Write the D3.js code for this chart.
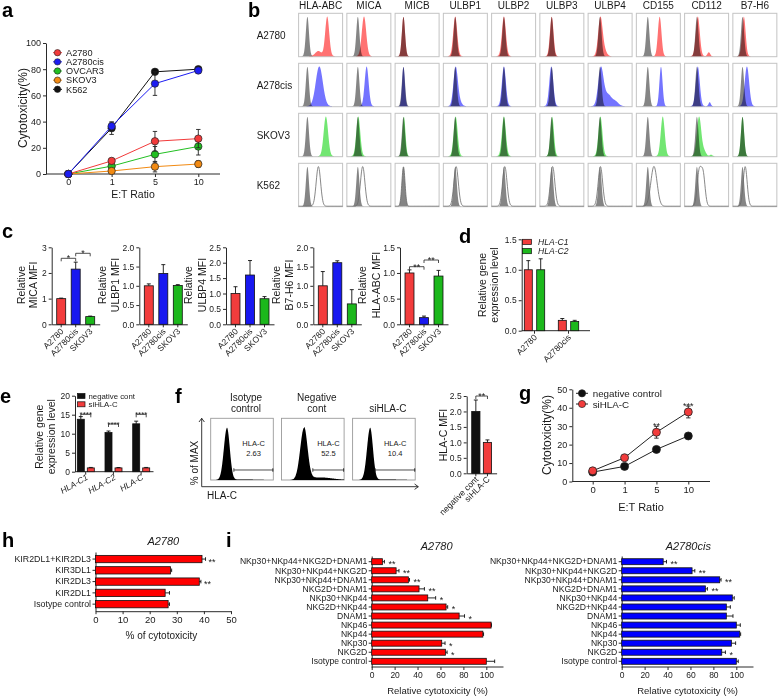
<!DOCTYPE html>
<html><head><meta charset="utf-8">
<script src="https://cdn.jsdelivr.net/npm/d3@7"></script>
<style>body{margin:0;background:#fff}svg{font-family:"Liberation Sans",Arial,Helvetica,sans-serif}</style>
</head><body>
<svg id="fig" width="778" height="696"></svg>
<script>
// ================= DATA =================
// panel a
const aRatios = ["0","1","5","10"];
const aYTicks = [0,20,40,60,80,100];
const aNames = ["A2780","A2780cis","OVCAR3","SKOV3","K562"];
const aColors = ["#f23a3a","#1c1cf2","#22c022","#f28a12","#111111"];
const aA2780 = [0,10,25,27];      const aA2780Err = [0,2,7.5,7];
const aA2780cis = [0,36.5,69,79]; const aA2780cisErr = [0,3,9,2];
const aOVCAR3 = [0,6,15,21];      const aOVCAR3Err = [0,2,6,6.5];
const aSKOV3 = [0,2.3,5.6,7.6];   const aSKOV3Err = [0,1.5,4,2.5];
const aK562 = [0,35,78,80];       const aK562Err = [0,4.8,1,1.5];
// panel b (flow histograms: peak position as fraction of log axis, spread)
const bMarkers = ["HLA-ABC","MICA","MICB","ULBP1","ULBP2","ULBP3","ULBP4","CD155","CD112","B7-H6"];
const bCells = ["A2780","A278cis","SKOV3","K562"];
const bIsoPeak = [0.20,0.25,0.19,0.27,0.28,0.27,0.27,0.26,0.28,0.22];
const bA2780Peak    = [0.65,0.39,0.19,0.27,0.28,0.27,0.28,0.53,0.30,0.25];
const bA2780cisPeak = [0.47,0.45,0.19,0.28,0.28,0.26,0.29,0.56,0.30,0.32];
const bSKOV3Peak    = [0.62,0.26,0.20,0.28,0.28,0.28,0.28,0.60,0.33,0.22];
const bK562Peak     = [0.45,0.36,0.19,0.29,0.30,0.29,0.28,0.40,0.33,0.28];
const bA2780Sd    = [0.045,0.05,0.035,0.045,0.045,0.04,0.05,0.04,0.045,0.04];
const bA2780cisSd = [0.08,0.045,0.03,0.05,0.045,0.045,0.06,0.035,0.045,0.05];
const bSKOV3Sd    = [0.05,0.045,0.035,0.045,0.045,0.04,0.045,0.045,0.05,0.035];
const bK562Sd     = [0.05,0.05,0.035,0.05,0.05,0.05,0.05,0.07,0.045,0.045];
const bExtra = [[0,0,0.45,0.13,0.07],[0,6,0.38,0.12,0.05],[0,8,0.55,0.1,0.03],[1,3,0.38,0.08,0.05],
  [1,6,0.45,0.3,0.08],[1,6,0.62,0.12,0.07],[1,8,0.57,0.1,0.025],[2,8,0.45,0.12,0.04],[2,8,0.6,0.04,0.03],[3,8,0.42,0.95,0.045]];
// panel c
const cCells = ["A2780","A2780cis","SKOV3"];
const cLabels = ["MICA MFI","ULBP1 MFI","ULBP4 MFI","B7-H6 MFI","HLA-ABC MFI"];
const cMICA = [1.0,2.15,0.3];     const cMICAErr = [0.02,0.27,0.02];
const cULBP1 = [1.0,1.32,1.01];   const cULBP1Err = [0.05,0.23,0.02];
const cULBP4 = [1.0,1.6,0.83];    const cULBP4Err = [0.22,0.47,0.07];
const cB7H6 = [1.0,1.6,0.53];     const cB7H6Err = [0.37,0.05,0.37];
const cHLAABC = [1.0,0.13,0.94];  const cHLAABCErr = [0.06,0.03,0.11];
const cYMax = [3,2,2.5,2,1.5];
// panel d
const dGroups = ["A2780","A2780cis"];
const dSeries = ["HLA-C1","HLA-C2"];
const dC1 = [1.0,0.17]; const dC1Err = [0.15,0.03];
const dC2 = [1.0,0.15]; const dC2Err = [0.18,0.02];
const dYTicks = [0,0.5,1.0,1.5];
// panel e
const eGenes = ["HLA-C1","HLA-C2","HLA-C"];
const eSeries = ["negative cont","siHLA-C"];
const eNeg = [13.8,10.3,12.6]; const eNegErr = [0.7,0.4,0.7];
const eSi = [1.0,1.0,1.0];     const eSiErr = [0.12,0.1,0.12];
const eYTicks = [0,5,10,15,20];
// panel f
const fTitles = [["Isotype","control"],["Negative","cont"],["siHLA-C"]];
const fGate = ["2.63","52.5","10.4"];
const fPeak = [0.26,0.36,0.28];
const fSd = [0.045,0.055,0.045];
const fGateStart = [0.37,0.5,0.36];
const fGroups = ["negative cont","siHLA-C"];
const fMFI = [2.0,1.0]; const fMFIErr = [0.37,0.08];
const fYTicks = [0,0.5,1.0,1.5,2.0,2.5];
// panel g
const gRatios = ["0","1","5","10"];
const gNeg = [5.1,8.2,17.4,24.7]; const gNegErr = [0.5,0.5,0.6,1.4];
const gSi = [5.8,12.9,26.7,37.7]; const gSiErr = [0.6,0.8,3.2,3.2];
const gSig = ["","","**","***"];
const gYTicks = [0,10,20,30,40,50];
// panel h
const hLabels = ["KIR2DL1+KIR2DL3","KIR3DL1","KIR2DL3","KIR2DL1","Isotype control"];
const hValues = [39.3,27.7,38.3,25.7,26.8];
const hErr = [1.3,0.4,0.6,1.6,0.5];
const hSig = ["**","","**","",""];
const hXTicks = [0,10,20,30,40,50];
// panel i
const iLabels = ["NKp30+NKp44+NKG2D+DNAM1","NKp30+NKp44+NKG2D","NKp30+NKp44+DNAM1","NKG2D+DNAM1","NKp30+NKp44",
  "NKG2D+NKp44","DNAM1","NKp46","NKp44","NKp30","NKG2D","Isotype control"];
const iA2780 = [9.3,21.3,32,41.3,48.9,64.9,76.3,104.2,97,61.1,64.3,100];
const iA2780Err = [1.8,2.5,1,4.7,6.9,1.4,4.7,0.3,0.6,2.9,1.5,7.3];
const iA2780Sig = ["**","**","**","**","*","*","*","","","*","*",""];
const iCis = [36.2,61.4,85.5,73,96.5,91.3,91.3,100,103,95.7,87.3,100];
const iCisErr = [2.9,2.4,1.2,1.8,1.7,3.5,5.8,3.5,0.8,3.7,3.2,1.7];
const iCisSig = ["**","**","**","**","","","","","","","*",""];
const iXTicks = [0,20,40,60,80,100];

// ================= HELPERS =================
const svg = d3.select("#fig");
svg.append("rect").attr("width",778).attr("height",696).attr("fill","#fff");
const AX = "#2a2a2a", TX = "#1a1a1a";
const RED = "#f23c3c", BLUE = "#1818f0", GREEN = "#1cb81c";

function txt(g,x,y,s,size,o={}){
  const t = g.append("text").attr("x",x).attr("y",y).text(s).attr("font-size",size).attr("fill",o.fill||TX);
  if(o.anchor) t.attr("text-anchor",o.anchor);
  if(o.weight) t.attr("font-weight",o.weight);
  if(o.italic) t.attr("font-style","italic");
  if(o.rotate!=null) t.attr("transform",`rotate(${o.rotate},${x},${y})`);
  return t;
}
function styleAxis(g,size){
  g.attr("font-family",null).attr("font-size",null);
  g.selectAll("path,line").attr("stroke",AX).attr("stroke-width",1);
  g.selectAll("text").attr("fill",TX).attr("font-size",size);
}
function line(g,x1,y1,x2,y2,c=AX,w=1){
  return g.append("line").attr("x1",x1).attr("y1",y1).attr("x2",x2).attr("y2",y2).attr("stroke",c).attr("stroke-width",w);
}
function yAxis(g,scale,x,ticks,fmt,size){
  const ax = g.append("g").attr("transform",`translate(${x},0)`)
    .call(d3.axisLeft(scale).tickValues(ticks).tickFormat(fmt).tickSize(3).tickSizeOuter(0).tickPadding(2));
  styleAxis(ax,size); return ax;
}
function xAxis(g,scale,y,ticks,fmt,size){
  const a = d3.axisBottom(scale).tickSize(3).tickSizeOuter(0).tickPadding(2);
  if(ticks) a.tickValues(ticks); if(fmt) a.tickFormat(fmt);
  const ax = g.append("g").attr("transform",`translate(0,${y})`).call(a);
  styleAxis(ax,size); return ax;
}
function vbar(g,x,w,ys,v,e,fill){
  g.append("rect").attr("x",x).attr("y",ys(v)).attr("width",w).attr("height",ys(0)-ys(v))
    .attr("fill",fill).attr("stroke","#111").attr("stroke-width",0.8);
  if(e>0){ const cx=x+w/2; line(g,cx,ys(v),cx,ys(v+e),"#111",0.9); line(g,cx-2,ys(v+e),cx+2,ys(v+e),"#111",0.9); }
}
function hbar(g,y,h,xs,v,e,fill){
  g.append("rect").attr("x",xs(0)).attr("y",y).attr("width",xs(v)-xs(0)).attr("height",h)
    .attr("fill",fill).attr("stroke","#111").attr("stroke-width",0.8);
  if(e>0){ const cy=y+h/2; line(g,xs(v),cy,xs(v+e),cy,"#111",0.9); line(g,xs(v+e),cy-1.8,xs(v+e),cy+1.8,"#111",0.9); }
}
function bracket(g,x1,x2,y,s,size=9){
  line(g,x1,y+3,x1,y,"#222",0.8); line(g,x1,y,x2,y,"#222",0.8); line(g,x2,y,x2,y+3,"#222",0.8);
  txt(g,(x1+x2)/2,y+size*0.35,s,size,{anchor:"middle"});
}
function panelLabel(s,x,y){ txt(svg,x,y,s,20,{weight:"bold",fill:"#000"}); }

// ================= PANEL a =================
(function(){
  const g = svg.append("g");
  panelLabel("a",2,17);
  const xs = d3.scalePoint().domain(aRatios).range([68.3,198.3]);
  const ys = d3.scaleLinear().domain([0,100]).range([174,43]);
  yAxis(g,ys,46,aYTicks,d3.format("d"),9);
  const xa = xAxis(g,xs,174,null,null,9); xa.select(".domain").remove();
  line(g,46,174,220,174);
  txt(g,27,108,"Cytotoxicity(%)",12,{anchor:"middle",rotate:-90});
  txt(g,133,198,"E:T Ratio",10.5,{anchor:"middle"});
  const vals = [aA2780,aA2780cis,aOVCAR3,aSKOV3,aK562];
  const errs = [aA2780Err,aA2780cisErr,aOVCAR3Err,aSKOV3Err,aK562Err];
  const order = [4,2,3,0,1];
  order.forEach(k=>{
    const c = aColors[k];
    const pts = aRatios.map((r,i)=>[xs(r),vals[k][i],errs[k][i]]);
    g.append("path").attr("d",d3.line().x(d=>d[0]).y(d=>ys(d[1]))(pts)).attr("fill","none").attr("stroke",c).attr("stroke-width",1);
    pts.forEach(p=>{ if(p[2]>0){ line(g,p[0],ys(p[1]-p[2]),p[0],ys(p[1]+p[2]),"#222",0.9);
      line(g,p[0]-2.2,ys(p[1]+p[2]),p[0]+2.2,ys(p[1]+p[2]),"#222",0.9);
      line(g,p[0]-2.2,ys(p[1]-p[2]),p[0]+2.2,ys(p[1]-p[2]),"#222",0.9);} });
    pts.forEach(p=>g.append("circle").attr("cx",p[0]).attr("cy",ys(p[1])).attr("r",3.7).attr("fill",c).attr("stroke","#222").attr("stroke-width",0.7));
  });
  aNames.forEach((n,i)=>{
    const y = 52.7 + i*9.15;
    line(g,53,y,62,y,aColors[i],1);
    g.append("circle").attr("cx",57.5).attr("cy",y).attr("r",3.2).attr("fill",aColors[i]).attr("stroke","#222").attr("stroke-width",0.6);
    txt(g,66,y+3.3,n,9.2);
  });
})();

// ================= PANEL b =================
(function(){
  const g = svg.append("g");
  panelLabel("b",248,16.5);
  const bx0=298.6, bStep=48.25, bw=44, by0=13.3, bRow=50, bh=43.4;
  const hx = d3.scaleLinear().domain([0,1]).range([0,bw]);
  const hy = d3.scaleLinear().domain([0,1]).range([bh-0.5,3]);
  const samples = d3.range(0,1.0001,0.01);
  function dens(peaks){
    const d = samples.map(s=>[s,d3.sum(peaks,p=>p[1]*Math.exp(-0.5*((s-p[0])/p[2])**2))]);
    const m = d3.max(d,v=>v[1]); return d.map(v=>[v[0],v[1]/m]);
  }
  const area = d3.area().x(d=>hx(d[0])).y0(bh-0.5).y1(d=>hy(d[1])).curve(d3.curveBasis);
  const lineGen = d3.line().x(d=>hx(d[0])).y(d=>hy(d[1])).curve(d3.curveBasis);
  const peaks = [bA2780Peak,bA2780cisPeak,bSKOV3Peak,bK562Peak];
  const sds = [bA2780Sd,bA2780cisSd,bSKOV3Sd,bK562Sd];
  const fills = ["#ff7272","#7474ff","#72e672"];
  bMarkers.forEach((m,j)=>txt(g,bx0+j*bStep+bw/2,8.8,m,10,{anchor:"middle"}));
  bCells.forEach((c,r)=>txt(g,256.7,by0+r*bRow+bh/2+3.5,c,10));
  bCells.forEach((c,r)=>{
    bMarkers.forEach((m,j)=>{
      const cell = g.append("g").attr("transform",`translate(${bx0+j*bStep},${by0+r*bRow})`);
      cell.append("rect").attr("width",bw).attr("height",bh).attr("fill","#fff").attr("stroke","#c4c4c4").attr("stroke-width",1);
      const iso = dens([[bIsoPeak[j],1,0.035]]);
      cell.append("path").attr("d",area(iso)).attr("fill","#858585");
      const pk = [[peaks[r][j],1,sds[r][j]]];
      bExtra.filter(e=>e[0]===r&&e[1]===j).forEach(e=>pk.push([e[2],e[3],e[4]]));
      const d = dens(pk);
      if(r<3) cell.append("path").attr("d",area(d)).attr("fill",fills[r]).style("mix-blend-mode","multiply");
      else cell.append("path").attr("d",lineGen(d)).attr("fill","none").attr("stroke","#6a6a6a").attr("stroke-width",0.8);
    });
  });
})();

// ================= PANEL c =================
(function(){
  const g = svg.append("g");
  panelLabel("c",2,238);
  const axX = [51.7,139.3,226,313.3,400];
  const vals = [cMICA,cULBP1,cULBP4,cB7H6,cHLAABC];
  const errs = [cMICAErr,cULBP1Err,cULBP4Err,cB7H6Err,cHLAABCErr];
  const cols = [RED,BLUE,GREEN];
  vals.forEach((v,k)=>{
    const x0 = axX[k];
    const ys = d3.scaleLinear().domain([0,cYMax[k]]).range([324.3,247.3]);
    const ticks = k===0 ? [0,1,2,3] : d3.range(0,cYMax[k]+0.001,0.5);
    yAxis(g,ys,x0,ticks,k===0?d3.format("d"):d3.format(".1f"),8.5);
    const xs = d3.scaleBand().domain(cCells).range([x0,x0+48]).paddingInner(0.38).paddingOuter(0.345);
    xAxis(g,xs,324.3,null,()=>"",8.5);
    cCells.forEach((c,i)=>{
      vbar(g,xs(c),xs.bandwidth(),ys,v[i],errs[k][i],cols[i]);
      txt(g,xs(c)+xs.bandwidth()/2+3,332,c,8.5,{anchor:"end",rotate:-45});
    });
    const o1 = k===0?-27.2:-33.8, o2 = k===0?-14.7:-20.3;
    txt(g,x0+o1,285,"Relative",10.5,{anchor:"middle",rotate:-90});
    txt(g,x0+o2,285,cLabels[k],10.5,{anchor:"middle",rotate:-90});
    const cx = i=>xs(cCells[i])+xs.bandwidth()/2;
    if(k===0){ bracket(g,cx(0),cx(1),258.3,"*"); bracket(g,cx(1),cx(2),253.3,"*"); }
    if(k===4){ bracket(g,cx(0),cx(1),266.7,"**"); bracket(g,cx(1),cx(2),260,"**"); }
  });
})();

// ================= PANEL d =================
(function(){
  const g = svg.append("g");
  panelLabel("d",459,243);
  const ys = d3.scaleLinear().domain([0,1.5]).range([330.7,239.3]);
  yAxis(g,ys,521.7,dYTicks,d3.format(".1f"),8.5);
  const xo = d3.scaleBand().domain(dGroups).range([521.7,589.7]);
  const xi = d3.scaleBand().domain(dSeries).range([0,25.6]).paddingInner(0.355).paddingOuter(0.21);
  line(g,521.7,330.7,590,330.7);
  const vals=[dC1,dC2], errs=[dC1Err,dC2Err], cols=[RED,GREEN];
  dGroups.forEach((gr,i)=>{
    dSeries.forEach((s,k)=>vbar(g,xo(gr)+xi(s),xi.bandwidth(),ys,vals[k][i],errs[k][i],cols[k]));
    const tx = xo(gr)+12.8;
    line(g,tx,330.7,tx,333.7);
    txt(g,tx+3,338,gr,8.5,{anchor:"end",rotate:-45});
  });
  txt(g,486,285,"Relative gene",10.5,{anchor:"middle",rotate:-90});
  txt(g,497.5,285,"expression level",10.5,{anchor:"middle",rotate:-90});
  dSeries.forEach((s,k)=>{
    const y = 239.3+k*9.2;
    g.append("rect").attr("x",522.5).attr("y",y).attr("width",9).attr("height",5.2).attr("fill",cols[k]).attr("stroke","#111").attr("stroke-width",0.7);
    txt(g,538,y+5.6,s,8.6,{italic:true});
  });
})();

// ================= PANEL e =================
(function(){
  const g = svg.append("g");
  panelLabel("e",0,403);
  const ys = d3.scaleLinear().domain([0,20]).range([471.7,395.7]);
  yAxis(g,ys,75,eYTicks,d3.format("d"),8.5);
  const xo = d3.scaleBand().domain(eGenes).range([75,158.1]);
  const xi = d3.scaleBand().domain(eSeries).range([0,21.6]).paddingInner(0.3).paddingOuter(0.23);
  line(g,75,471.7,153.5,471.7);
  const vals=[eNeg,eSi], errs=[eNegErr,eSiErr], cols=["#111",RED];
  const brY = [414.3,424,414.3];
  eGenes.forEach((gr,i)=>{
    eSeries.forEach((s,k)=>vbar(g,xo(gr)+xi(s),xi.bandwidth(),ys,vals[k][i],errs[k][i],cols[k]));
    const tx = xo(gr)+10.7;
    line(g,tx,471.7,tx,474.7);
    txt(g,tx+3,479,gr,8.5,{anchor:"end",rotate:-30,italic:true});
    bracket(g,xo(gr)+xi(eSeries[0])+xi.bandwidth()/2,xo(gr)+xi(eSeries[1])+xi.bandwidth()/2,brY[i],"****",8);
  });
  txt(g,43.5,436.7,"Relative gene",10.5,{anchor:"middle",rotate:-90});
  txt(g,55,436.7,"expression level",10.5,{anchor:"middle",rotate:-90});
  eSeries.forEach((s,k)=>{
    const y = 393.5+k*8.3;
    g.append("rect").attr("x",77.5).attr("y",y).attr("width",7.5).attr("height",5).attr("fill",cols[k]).attr("stroke","#111").attr("stroke-width",0.7);
    txt(g,88.5,y+5.2,s,7.8);
  });
})();

// ================= PANEL f =================
(function(){
  const g = svg.append("g");
  panelLabel("f",175,403);
  const boxX = [210.7,281.5,352.6], bw = 62.6, by = 418.3, bh = 61.7;
  const hx = d3.scaleLinear().domain([0,1]).range([0,bw]);
  const hy = d3.scaleLinear().domain([0,1]).range([bh,9.5]);
  const samples = d3.range(0,1.0001,0.005);
  fTitles.forEach((t,i)=>{
    const cx = boxX[i]+bw/2+4;
    if(t.length===2){ txt(g,cx,400.5,t[0],10,{anchor:"middle"}); txt(g,cx,412,t[1],10,{anchor:"middle"}); }
    else txt(g,cx,412,t[0],10,{anchor:"middle"});
    const cell = g.append("g").attr("transform",`translate(${boxX[i]},${by})`);
    cell.append("rect").attr("width",bw).attr("height",bh).attr("fill","#fff").attr("stroke","#9a9a9a").attr("stroke-width",0.9);
    const tail = i===1 ? 0.05 : 0.01;
    const d = samples.map(s=>{
      const sd = s<fPeak[i] ? fSd[i]*1.1 : fSd[i];
      let v = Math.exp(-0.5*((s-fPeak[i])/sd)**2);
      if(s>fPeak[i]) v += tail*Math.exp(-0.5*((s-fPeak[i]-0.25)/0.2)**2);
      return [s,v];
    });
    cell.append("path").attr("d",d3.area().x(v=>hx(v[0])).y0(bh).y1(v=>hy(v[1])).curve(d3.curveBasis)(d)).attr("fill","#000");
    const gy = 51.7, gx = hx(fGateStart[i]);
    line(cell,gx,gy,bw,gy,"#222",0.8); line(cell,gx,gy-1.8,gx,gy+1.8,"#222",0.8); line(cell,bw-0.5,gy-1.8,bw-0.5,gy+1.8,"#222",0.8);
    const tx = hx(fGateStart[i]) + (bw-hx(fGateStart[i]))/2;
    txt(cell,tx,27.5,"HLA-C",7.5,{anchor:"middle"});
    txt(cell,tx,37.5,fGate[i],7.5,{anchor:"middle"});
  });
  line(g,201.7,486.7,201.7,418.3,"#222",0.9);
  line(g,199,422,201.7,418.3,"#222",0.9); line(g,204.4,422,201.7,418.3,"#222",0.9);
  line(g,201.7,486.7,418.3,486.7,"#222",0.9);
  line(g,414.6,484,418.3,486.7,"#222",0.9); line(g,414.6,489.4,418.3,486.7,"#222",0.9);
  txt(g,198,463,"% of MAX",10,{anchor:"middle",rotate:-90});
  txt(g,207,499,"HLA-C",10);
  const ys = d3.scaleLinear().domain([0,2.5]).range([473.3,396]);
  yAxis(g,ys,466.7,fYTicks,d3.format(".1f"),8.5);
  const xs = d3.scaleBand().domain(fGroups).range([466.7,496.6]).paddingInner(0.29).paddingOuter(0.43);
  xAxis(g,xs,473.3,null,()=>"",8.5);
  const cols = ["#111",RED];
  fGroups.forEach((s,i)=>{
    vbar(g,xs(s),xs.bandwidth(),ys,fMFI[i],fMFIErr[i],cols[i]);
    txt(g,xs(s)+xs.bandwidth()/2+3,480,s,8.5,{anchor:"end",rotate:-45});
  });
  bracket(g,xs(fGroups[0])+xs.bandwidth()/2,xs(fGroups[1])+xs.bandwidth()/2,396,"**",9);
  txt(g,447,435,"HLA-C MFI",10.5,{anchor:"middle",rotate:-90});
})();

// ================= PANEL g =================
(function(){
  const g = svg.append("g");
  panelLabel("g",519,400);
  const xs = d3.scalePoint().domain(gRatios).range([592.7,688.3]);
  const ys = d3.scaleLinear().domain([0,50]).range([481.5,389.3]);
  yAxis(g,ys,572.3,gYTicks,d3.format("d"),9);
  const xa = xAxis(g,xs,481.5,null,null,9.5); xa.select(".domain").remove();
  line(g,572.3,481.5,710,481.5);
  txt(g,551,435,"Cytotoxicity(%)",12,{anchor:"middle",rotate:-90});
  txt(g,641,510.5,"E:T Ratio",11,{anchor:"middle"});
  const ser = [[gNeg,gNegErr,"#111"],[gSi,gSiErr,RED]];
  ser.forEach(([v,e,c])=>{
    const pts = gRatios.map((r,i)=>[xs(r),v[i],e[i]]);
    g.append("path").attr("d",d3.line().x(d=>d[0]).y(d=>ys(d[1]))(pts)).attr("fill","none").attr("stroke","#222").attr("stroke-width",1);
    pts.forEach(p=>{ line(g,p[0],ys(p[1]-p[2]),p[0],ys(p[1]+p[2]),"#222",0.9);
      line(g,p[0]-2.2,ys(p[1]+p[2]),p[0]+2.2,ys(p[1]+p[2]),"#222",0.9);
      line(g,p[0]-2.2,ys(p[1]-p[2]),p[0]+2.2,ys(p[1]-p[2]),"#222",0.9); });
    pts.forEach(p=>g.append("circle").attr("cx",p[0]).attr("cy",ys(p[1])).attr("r",4).attr("fill",c).attr("stroke","#222").attr("stroke-width",0.8));
  });
  gSig.forEach((s,i)=>{ if(s) txt(g,xs(gRatios[i]),ys(gSi[i]+gSiErr[i])-3+5.5,s,9,{anchor:"middle"}); });
  [["negative control","#111"],["siHLA-C",RED]].forEach(([n,c],k)=>{
    const y = 393.3+k*10.7;
    line(g,576,y,588,y,"#222",1);
    g.append("circle").attr("cx",582).attr("cy",y).attr("r",3.6).attr("fill",c).attr("stroke","#222").attr("stroke-width",0.7);
    txt(g,592.7,y+3.5,n,9.8);
  });
})();

// ================= PANEL h =================
(function(){
  const g = svg.append("g");
  panelLabel("h",2,547);
  txt(g,163.3,545,"A2780",11,{anchor:"middle",italic:true});
  const xs = d3.scaleLinear().domain([0,50]).range([95.5,231]);
  const ys = d3.scaleBand().domain(hLabels).range([552,611.2]).paddingInner(0.35).paddingOuter(0.3);
  const ya = g.append("g").attr("transform","translate(95.5,0)").call(d3.axisLeft(ys).tickSize(3).tickSizeOuter(0).tickPadding(1.5));
  styleAxis(ya,8.8);
  xAxis(g,xs,611.2,hXTicks,d3.format("d"),9.5);
  hLabels.forEach((l,i)=>{
    hbar(g,ys(l),ys.bandwidth(),xs,hValues[i],hErr[i],"#ff0000");
    if(hSig[i]) txt(g,xs(hValues[i]+hErr[i])+3,ys(l)+ys.bandwidth()/2+5.5,hSig[i],9);
  });
  txt(g,161.4,638.5,"% of cytotoxicity",10,{anchor:"middle"});
})();

// ================= PANEL i =================
function iPanel(x0,title,titleX,vals,errs,sig,color){
  const g = svg.append("g");
  txt(g,titleX,550,title,11,{anchor:"middle",italic:true});
  const xs = d3.scaleLinear().domain([0,100]).range([x0,x0+114.6]);
  const ys = d3.scaleBand().domain(iLabels).range([556,667]).paddingInner(0.34).paddingOuter(0.3);
  const ya = g.append("g").attr("transform",`translate(${x0},0)`).call(d3.axisLeft(ys).tickSize(3).tickSizeOuter(0).tickPadding(1.5));
  styleAxis(ya,8.6);
  const xa = xAxis(g,xs,667,iXTicks,d3.format("d"),8.5); xa.select(".domain").remove();
  line(g,x0,667,xs(115),667);
  iLabels.forEach((l,i)=>{
    hbar(g,ys(l),ys.bandwidth(),xs,vals[i],errs[i],color);
    if(sig[i]) txt(g,xs(vals[i]+errs[i])+4,ys(l)+ys.bandwidth()/2+5.5,sig[i],9);
  });
  txt(g,(x0+xs(115))/2,693.5,"Relative cytotoxicity (%)",9.5,{anchor:"middle"});
}
panelLabel("i",226,547);
iPanel(371.7,"A2780",436.7,iA2780,iA2780Err,iA2780Sig,"#ff0000");
iPanel(621.7,"A2780cis",688.3,iCis,iCisErr,iCisSig,"#0000ff");
</script>
</body></html>
